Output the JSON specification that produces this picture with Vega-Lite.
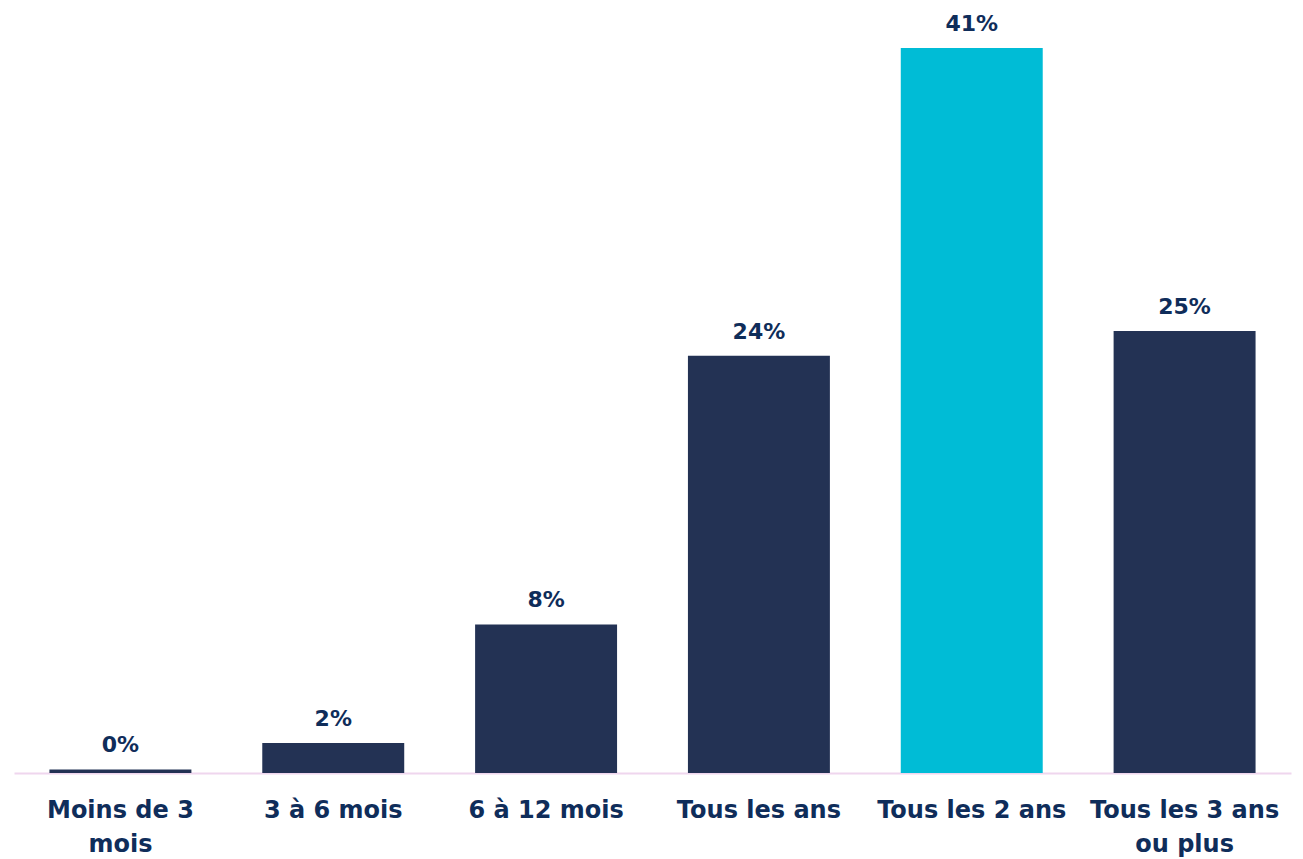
{
  "$schema": "https://vega.github.io/schema/vega-lite/v6.json",
  "width": 1277,
  "height": 725,
  "autosize": {"type": "none"},
  "padding": {"left": 14, "top": 48, "right": 12, "bottom": 86},
  "background": "white",
  "config": {"view": {"stroke": null}, "font": "DejaVu Sans"},
  "data": {"values": [
    {"cat": "Moins de 3 mois", "value": 0.002, "hl": "n"},
    {"cat": "3 à 6 mois", "value": 0.017, "hl": "n"},
    {"cat": "6 à 12 mois", "value": 0.084, "hl": "n"},
    {"cat": "Tous les ans", "value": 0.236, "hl": "n"},
    {"cat": "Tous les 2 ans", "value": 0.41, "hl": "y"},
    {"cat": "Tous les 3 ans ou plus", "value": 0.25, "hl": "n"}
  ]},
  "encoding": {
    "x": {"field": "cat", "type": "nominal", "sort": null,
      "scale": {"paddingInner": 0.333, "paddingOuter": 0.1665},
      "axis": {"title": null, "labelAngle": 0, "ticks": false, "domainColor": "#efd6ee", "domainWidth": 2,
        "labelFont": "DejaVu Sans", "labelFontSize": 24, "labelFontWeight": "bold", "labelColor": "#0f2d5a",
        "labelPadding": 25, "labelLineHeight": 34, "labelLimit": 400, "labelOverlap": false,
        "labelExpr": "datum.value == 'Moins de 3 mois' ? ['Moins de 3', 'mois'] : datum.value == 'Tous les 3 ans ou plus' ? ['Tous les 3 ans', 'ou plus'] : datum.value"}},
    "y": {"field": "value", "type": "quantitative", "scale": {"domain": [0, 0.41], "nice": false, "zero": true}, "axis": null}
  },
  "layer": [
    {"mark": {"type": "bar"},
     "encoding": {"color": {"field": "hl", "type": "nominal", "scale": {"domain": ["n", "y"], "range": ["#233254", "#00bcd6"]}, "legend": null}}},
    {"mark": {"type": "text", "baseline": "alphabetic", "dy": -17, "fontSize": 22, "fontWeight": "bold", "color": "#0f2d5a", "font": "DejaVu Sans"},
     "encoding": {"text": {"field": "value", "type": "quantitative", "format": ".0%"}}}
  ]
}
